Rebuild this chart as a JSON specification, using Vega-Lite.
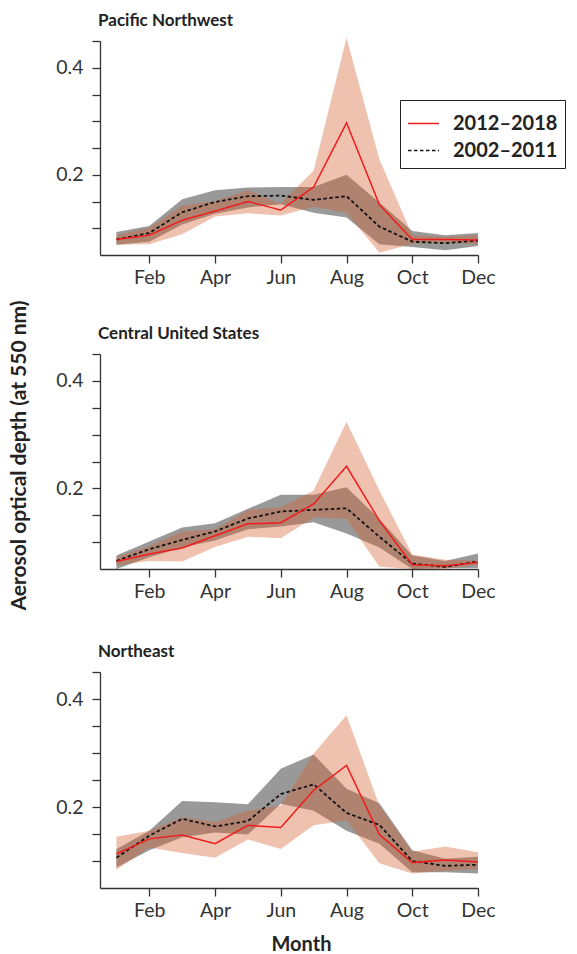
{
  "$schema": "https://vega.github.io/schema/vega-lite/v6.json",
  "padding": {"left": 8, "top": 12, "right": 0, "bottom": 0},
  "autosize": {"type": "pad"},
  "config": {
    "font": "Lato",
    "view": {"stroke": null},
    "axis": {
      "grid": false, "domainColor": "#333", "domainWidth": 1.3, "tickColor": "#333", "tickWidth": 1.3, "tickSize": 8,
      "labelFont": "Lato", "labelFontSize": 19.5, "labelColor": "#333", "labelFlush": false, "labelOverlap": false,
      "titleFont": "Lato", "titleFontSize": 20, "titleFontWeight": "bold", "titleColor": "#222"
    },
    "axisY": {"labelPadding": 9, "titleX": -75, "titleBaseline": "alphabetic", "titleAngle": -90, "titleFontSize": 21},
    "axisX": {"labelPadding": 5, "titleX": 201, "titleY": 62, "titleBaseline": "alphabetic"},
    "title": {"anchor": "start", "frame": "group", "offset": 1, "baseline": "alphabetic", "font": "Lato", "fontSize": 17, "fontWeight": "bold", "color": "#222", "dx": -2}
  },
  "data": {"values": [
    {"r":"PNW","m":1,"p":"2012–2018","v":0.079,"lo":0.069,"hi":0.087},
    {"r":"PNW","m":2,"p":"2012–2018","v":0.087,"lo":0.070,"hi":0.101},
    {"r":"PNW","m":3,"p":"2012–2018","v":0.115,"lo":0.089,"hi":0.142},
    {"r":"PNW","m":4,"p":"2012–2018","v":0.132,"lo":0.122,"hi":0.151},
    {"r":"PNW","m":5,"p":"2012–2018","v":0.150,"lo":0.128,"hi":0.171},
    {"r":"PNW","m":6,"p":"2012–2018","v":0.134,"lo":0.124,"hi":0.146},
    {"r":"PNW","m":7,"p":"2012–2018","v":0.177,"lo":0.140,"hi":0.208},
    {"r":"PNW","m":8,"p":"2012–2018","v":0.297,"lo":0.129,"hi":0.456},
    {"r":"PNW","m":9,"p":"2012–2018","v":0.144,"lo":0.054,"hi":0.229},
    {"r":"PNW","m":10,"p":"2012–2018","v":0.079,"lo":0.071,"hi":0.087},
    {"r":"PNW","m":11,"p":"2012–2018","v":0.079,"lo":0.073,"hi":0.084},
    {"r":"PNW","m":12,"p":"2012–2018","v":0.078,"lo":0.070,"hi":0.087},
    {"r":"PNW","m":1,"p":"2002–2011","v":0.079,"lo":0.069,"hi":0.093},
    {"r":"PNW","m":2,"p":"2002–2011","v":0.091,"lo":0.075,"hi":0.104},
    {"r":"PNW","m":3,"p":"2002–2011","v":0.130,"lo":0.107,"hi":0.154},
    {"r":"PNW","m":4,"p":"2002–2011","v":0.149,"lo":0.127,"hi":0.171},
    {"r":"PNW","m":5,"p":"2002–2011","v":0.160,"lo":0.139,"hi":0.176},
    {"r":"PNW","m":6,"p":"2002–2011","v":0.161,"lo":0.145,"hi":0.177},
    {"r":"PNW","m":7,"p":"2002–2011","v":0.153,"lo":0.129,"hi":0.177},
    {"r":"PNW","m":8,"p":"2002–2011","v":0.160,"lo":0.120,"hi":0.200},
    {"r":"PNW","m":9,"p":"2002–2011","v":0.103,"lo":0.070,"hi":0.148},
    {"r":"PNW","m":10,"p":"2002–2011","v":0.075,"lo":0.065,"hi":0.095},
    {"r":"PNW","m":11,"p":"2002–2011","v":0.072,"lo":0.059,"hi":0.087},
    {"r":"PNW","m":12,"p":"2002–2011","v":0.077,"lo":0.067,"hi":0.091},
    {"r":"CUS","m":1,"p":"2012–2018","v":0.064,"lo":0.057,"hi":0.072},
    {"r":"CUS","m":2,"p":"2012–2018","v":0.078,"lo":0.065,"hi":0.093},
    {"r":"CUS","m":3,"p":"2012–2018","v":0.089,"lo":0.064,"hi":0.120},
    {"r":"CUS","m":4,"p":"2012–2018","v":0.112,"lo":0.091,"hi":0.124},
    {"r":"CUS","m":5,"p":"2012–2018","v":0.134,"lo":0.110,"hi":0.160},
    {"r":"CUS","m":6,"p":"2012–2018","v":0.136,"lo":0.107,"hi":0.165},
    {"r":"CUS","m":7,"p":"2012–2018","v":0.171,"lo":0.146,"hi":0.196},
    {"r":"CUS","m":8,"p":"2012–2018","v":0.241,"lo":0.143,"hi":0.324},
    {"r":"CUS","m":9,"p":"2012–2018","v":0.140,"lo":0.054,"hi":0.196},
    {"r":"CUS","m":10,"p":"2012–2018","v":0.058,"lo":0.050,"hi":0.077},
    {"r":"CUS","m":11,"p":"2012–2018","v":0.056,"lo":0.050,"hi":0.067},
    {"r":"CUS","m":12,"p":"2012–2018","v":0.062,"lo":0.058,"hi":0.066},
    {"r":"CUS","m":1,"p":"2002–2011","v":0.065,"lo":0.050,"hi":0.075},
    {"r":"CUS","m":2,"p":"2002–2011","v":0.087,"lo":0.072,"hi":0.101},
    {"r":"CUS","m":3,"p":"2002–2011","v":0.104,"lo":0.090,"hi":0.127},
    {"r":"CUS","m":4,"p":"2002–2011","v":0.120,"lo":0.103,"hi":0.135},
    {"r":"CUS","m":5,"p":"2002–2011","v":0.144,"lo":0.124,"hi":0.162},
    {"r":"CUS","m":6,"p":"2002–2011","v":0.157,"lo":0.129,"hi":0.188},
    {"r":"CUS","m":7,"p":"2002–2011","v":0.160,"lo":0.137,"hi":0.188},
    {"r":"CUS","m":8,"p":"2002–2011","v":0.163,"lo":0.116,"hi":0.202},
    {"r":"CUS","m":9,"p":"2002–2011","v":0.110,"lo":0.090,"hi":0.143},
    {"r":"CUS","m":10,"p":"2002–2011","v":0.060,"lo":0.050,"hi":0.075},
    {"r":"CUS","m":11,"p":"2002–2011","v":0.054,"lo":0.052,"hi":0.065},
    {"r":"CUS","m":12,"p":"2002–2011","v":0.064,"lo":0.052,"hi":0.079},
    {"r":"NE","m":1,"p":"2012–2018","v":0.113,"lo":0.084,"hi":0.145},
    {"r":"NE","m":2,"p":"2012–2018","v":0.141,"lo":0.125,"hi":0.156},
    {"r":"NE","m":3,"p":"2012–2018","v":0.148,"lo":0.115,"hi":0.181},
    {"r":"NE","m":4,"p":"2012–2018","v":0.132,"lo":0.106,"hi":0.172},
    {"r":"NE","m":5,"p":"2012–2018","v":0.166,"lo":0.140,"hi":0.193},
    {"r":"NE","m":6,"p":"2012–2018","v":0.162,"lo":0.122,"hi":0.203},
    {"r":"NE","m":7,"p":"2012–2018","v":0.231,"lo":0.166,"hi":0.299},
    {"r":"NE","m":8,"p":"2012–2018","v":0.277,"lo":0.175,"hi":0.370},
    {"r":"NE","m":9,"p":"2012–2018","v":0.149,"lo":0.096,"hi":0.203},
    {"r":"NE","m":10,"p":"2012–2018","v":0.097,"lo":0.077,"hi":0.117},
    {"r":"NE","m":11,"p":"2012–2018","v":0.102,"lo":0.082,"hi":0.127},
    {"r":"NE","m":12,"p":"2012–2018","v":0.098,"lo":0.085,"hi":0.116},
    {"r":"NE","m":1,"p":"2002–2011","v":0.106,"lo":0.088,"hi":0.122},
    {"r":"NE","m":2,"p":"2002–2011","v":0.147,"lo":0.120,"hi":0.156},
    {"r":"NE","m":3,"p":"2002–2011","v":0.178,"lo":0.144,"hi":0.211},
    {"r":"NE","m":4,"p":"2002–2011","v":0.164,"lo":0.153,"hi":0.209},
    {"r":"NE","m":5,"p":"2002–2011","v":0.174,"lo":0.149,"hi":0.205},
    {"r":"NE","m":6,"p":"2002–2011","v":0.224,"lo":0.206,"hi":0.271},
    {"r":"NE","m":7,"p":"2002–2011","v":0.242,"lo":0.193,"hi":0.297},
    {"r":"NE","m":8,"p":"2002–2011","v":0.189,"lo":0.156,"hi":0.234},
    {"r":"NE","m":9,"p":"2002–2011","v":0.167,"lo":0.132,"hi":0.207},
    {"r":"NE","m":10,"p":"2002–2011","v":0.100,"lo":0.079,"hi":0.120},
    {"r":"NE","m":11,"p":"2002–2011","v":0.091,"lo":0.079,"hi":0.104},
    {"r":"NE","m":12,"p":"2002–2011","v":0.093,"lo":0.077,"hi":0.108}
  ]},
  "bounds": "flush",
  "spacing": 99,
  "vconcat": [
    {
      "title": {"text": "Pacific Northwest"},
      "width": 378, "height": 214,
      "transform": [{"filter": "datum.r == 'PNW'"}],
      "encoding": {"x": {"field": "m", "type": "quantitative", "scale": {"domain": [0.5, 12]}, "axis": {"values": [2,4,6,8,10,12], "labelExpr": "['','Jan','Feb','Mar','Apr','May','Jun','Jul','Aug','Sep','Oct','Nov','Dec'][datum.value]", "title": null}}},
      "layer": [
        {"transform": [{"filter": "datum.p == '2002–2011'"}], "mark": {"type": "area", "color": "#000", "opacity": 0.4},
         "encoding": {"y": {"field": "hi", "type": "quantitative", "scale": {"domain": [0.05, 0.45]}, "axis": {"values": [0.1,0.15,0.2,0.25,0.3,0.35,0.4,0.45], "labelExpr": "datum.value == 0.2 || datum.value == 0.4 ? format(datum.value, '.1f') : ''", "title": "Aerosol optical depth (at 550 nm)", "titleY": 414}}, "y2": {"field": "lo"}}},
        {"transform": [{"filter": "datum.p == '2012–2018'"}], "mark": {"type": "area", "color": "#d55e30", "opacity": 0.38},
         "encoding": {"y": {"field": "hi", "type": "quantitative", "scale": {"domain": [0.05, 0.45]}, "axis": {"values": [0.1,0.15,0.2,0.25,0.3,0.35,0.4,0.45], "labelExpr": "datum.value == 0.2 || datum.value == 0.4 ? format(datum.value, '.1f') : ''", "title": "Aerosol optical depth (at 550 nm)", "titleY": 414}}, "y2": {"field": "lo"}}},
        {"transform": [{"filter": "datum.p == '2002–2011'"}], "mark": {"type": "line", "strokeWidth": 1.8},
         "encoding": {"y": {"field": "v", "type": "quantitative", "scale": {"domain": [0.05, 0.45]}, "axis": {"values": [0.1,0.15,0.2,0.25,0.3,0.35,0.4,0.45], "labelExpr": "datum.value == 0.2 || datum.value == 0.4 ? format(datum.value, '.1f') : ''", "title": "Aerosol optical depth (at 550 nm)", "titleY": 414}},
           "color": {"datum": "2002–2011", "type": "nominal", "scale": {"domain": ["2012–2018", "2002–2011"], "range": ["#f01c1c", "#111111"]},
             "legend": {"title": null, "orient": "none", "legendX": 300, "legendY": 59, "strokeColor": "#222", "fillColor": "white", "padding": 7, "symbolType": "stroke", "symbolSize": 961, "symbolStrokeWidth": 1.5, "labelFont": "Lato", "labelFontWeight": "bold", "labelFontSize": 20, "labelColor": "#222", "labelOffset": 13, "rowPadding": -10, "cornerRadius": 0, "labelExpr": "datum.label + '\u00a0\u00a0\u00a0\u00a0\u00a0\u00a0\u00a0'"}},
           "strokeDash": {"datum": "2002–2011", "type": "nominal", "scale": {"domain": ["2012–2018", "2002–2011"], "range": [[1, 0], [3.5, 2.5]]},
             "legend": {"title": null, "orient": "none", "legendX": 300, "legendY": 59, "strokeColor": "#222", "fillColor": "white", "padding": 7, "symbolType": "stroke", "symbolSize": 961, "symbolStrokeWidth": 1.5, "labelFont": "Lato", "labelFontWeight": "bold", "labelFontSize": 20, "labelColor": "#222", "labelOffset": 13, "rowPadding": -10, "cornerRadius": 0, "labelExpr": "datum.label + '\u00a0\u00a0\u00a0\u00a0\u00a0\u00a0\u00a0'"}}}},
        {"transform": [{"filter": "datum.p == '2012–2018'"}], "mark": {"type": "line", "strokeWidth": 1.5},
         "encoding": {"y": {"field": "v", "type": "quantitative", "scale": {"domain": [0.05, 0.45]}, "axis": {"values": [0.1,0.15,0.2,0.25,0.3,0.35,0.4,0.45], "labelExpr": "datum.value == 0.2 || datum.value == 0.4 ? format(datum.value, '.1f') : ''", "title": "Aerosol optical depth (at 550 nm)", "titleY": 414}},
           "color": {"datum": "2012–2018", "type": "nominal", "scale": {"domain": ["2012–2018", "2002–2011"], "range": ["#f01c1c", "#111111"]},
             "legend": {"title": null, "orient": "none", "legendX": 300, "legendY": 59, "strokeColor": "#222", "fillColor": "white", "padding": 7, "symbolType": "stroke", "symbolSize": 961, "symbolStrokeWidth": 1.5, "labelFont": "Lato", "labelFontWeight": "bold", "labelFontSize": 20, "labelColor": "#222", "labelOffset": 13, "rowPadding": -10, "cornerRadius": 0, "labelExpr": "datum.label + '\u00a0\u00a0\u00a0\u00a0\u00a0\u00a0\u00a0'"}},
           "strokeDash": {"datum": "2012–2018", "type": "nominal", "scale": {"domain": ["2012–2018", "2002–2011"], "range": [[1, 0], [3.5, 2.5]]},
             "legend": {"title": null, "orient": "none", "legendX": 300, "legendY": 59, "strokeColor": "#222", "fillColor": "white", "padding": 7, "symbolType": "stroke", "symbolSize": 961, "symbolStrokeWidth": 1.5, "labelFont": "Lato", "labelFontWeight": "bold", "labelFontSize": 20, "labelColor": "#222", "labelOffset": 13, "rowPadding": -10, "cornerRadius": 0, "labelExpr": "datum.label + '\u00a0\u00a0\u00a0\u00a0\u00a0\u00a0\u00a0'"}}}}
      ]
    },
    {
      "bounds": "flush",
      "spacing": 103,
      "vconcat": [
        {
          "title": {"text": "Central United States"},
          "width": 378, "height": 215,
          "transform": [{"filter": "datum.r == 'CUS'"}],
          "encoding": {"x": {"field": "m", "type": "quantitative", "scale": {"domain": [0.5, 12]}, "axis": {"values": [2,4,6,8,10,12], "labelExpr": "['','Jan','Feb','Mar','Apr','May','Jun','Jul','Aug','Sep','Oct','Nov','Dec'][datum.value]", "title": null}}},
          "layer": [
            {"transform": [{"filter": "datum.p == '2002–2011'"}], "mark": {"type": "area", "color": "#000", "opacity": 0.4},
             "encoding": {"y": {"field": "hi", "type": "quantitative", "scale": {"domain": [0.05, 0.45]}, "axis": {"values": [0.1,0.15,0.2,0.25,0.3,0.35,0.4,0.45], "labelExpr": "datum.value == 0.2 || datum.value == 0.4 ? format(datum.value, '.1f') : ''", "title": null}}, "y2": {"field": "lo"}}},
            {"transform": [{"filter": "datum.p == '2012–2018'"}], "mark": {"type": "area", "color": "#d55e30", "opacity": 0.38},
             "encoding": {"y": {"field": "hi", "type": "quantitative", "scale": {"domain": [0.05, 0.45]}, "axis": {"values": [0.1,0.15,0.2,0.25,0.3,0.35,0.4,0.45], "labelExpr": "datum.value == 0.2 || datum.value == 0.4 ? format(datum.value, '.1f') : ''", "title": null}}, "y2": {"field": "lo"}}},
            {"transform": [{"filter": "datum.p == '2002–2011'"}], "mark": {"type": "line", "color": "#111111", "strokeDash": [3.5, 2.5], "strokeWidth": 1.8},
             "encoding": {"y": {"field": "v", "type": "quantitative", "scale": {"domain": [0.05, 0.45]}, "axis": {"values": [0.1,0.15,0.2,0.25,0.3,0.35,0.4,0.45], "labelExpr": "datum.value == 0.2 || datum.value == 0.4 ? format(datum.value, '.1f') : ''", "title": null}}}},
            {"transform": [{"filter": "datum.p == '2012–2018'"}], "mark": {"type": "line", "color": "#f01c1c", "strokeWidth": 1.5},
             "encoding": {"y": {"field": "v", "type": "quantitative", "scale": {"domain": [0.05, 0.45]}, "axis": {"values": [0.1,0.15,0.2,0.25,0.3,0.35,0.4,0.45], "labelExpr": "datum.value == 0.2 || datum.value == 0.4 ? format(datum.value, '.1f') : ''", "title": null}}}}
          ]
        },
        {
          "title": {"text": "Northeast"},
          "width": 378, "height": 216,
          "transform": [{"filter": "datum.r == 'NE'"}],
          "encoding": {"x": {"field": "m", "type": "quantitative", "scale": {"domain": [0.5, 12]}, "axis": {"values": [2,4,6,8,10,12], "labelExpr": "['','Jan','Feb','Mar','Apr','May','Jun','Jul','Aug','Sep','Oct','Nov','Dec'][datum.value]", "title": "Month"}}},
          "layer": [
            {"transform": [{"filter": "datum.p == '2002–2011'"}], "mark": {"type": "area", "color": "#000", "opacity": 0.4},
             "encoding": {"y": {"field": "hi", "type": "quantitative", "scale": {"domain": [0.05, 0.45]}, "axis": {"values": [0.1,0.15,0.2,0.25,0.3,0.35,0.4,0.45], "labelExpr": "datum.value == 0.2 || datum.value == 0.4 ? format(datum.value, '.1f') : ''", "title": null}}, "y2": {"field": "lo"}}},
            {"transform": [{"filter": "datum.p == '2012–2018'"}], "mark": {"type": "area", "color": "#d55e30", "opacity": 0.38},
             "encoding": {"y": {"field": "hi", "type": "quantitative", "scale": {"domain": [0.05, 0.45]}, "axis": {"values": [0.1,0.15,0.2,0.25,0.3,0.35,0.4,0.45], "labelExpr": "datum.value == 0.2 || datum.value == 0.4 ? format(datum.value, '.1f') : ''", "title": null}}, "y2": {"field": "lo"}}},
            {"transform": [{"filter": "datum.p == '2002–2011'"}], "mark": {"type": "line", "color": "#111111", "strokeDash": [3.5, 2.5], "strokeWidth": 1.8},
             "encoding": {"y": {"field": "v", "type": "quantitative", "scale": {"domain": [0.05, 0.45]}, "axis": {"values": [0.1,0.15,0.2,0.25,0.3,0.35,0.4,0.45], "labelExpr": "datum.value == 0.2 || datum.value == 0.4 ? format(datum.value, '.1f') : ''", "title": null}}}},
            {"transform": [{"filter": "datum.p == '2012–2018'"}], "mark": {"type": "line", "color": "#f01c1c", "strokeWidth": 1.5},
             "encoding": {"y": {"field": "v", "type": "quantitative", "scale": {"domain": [0.05, 0.45]}, "axis": {"values": [0.1,0.15,0.2,0.25,0.3,0.35,0.4,0.45], "labelExpr": "datum.value == 0.2 || datum.value == 0.4 ? format(datum.value, '.1f') : ''", "title": null}}}}
          ]
        }
      ]
    }
  ]
}
